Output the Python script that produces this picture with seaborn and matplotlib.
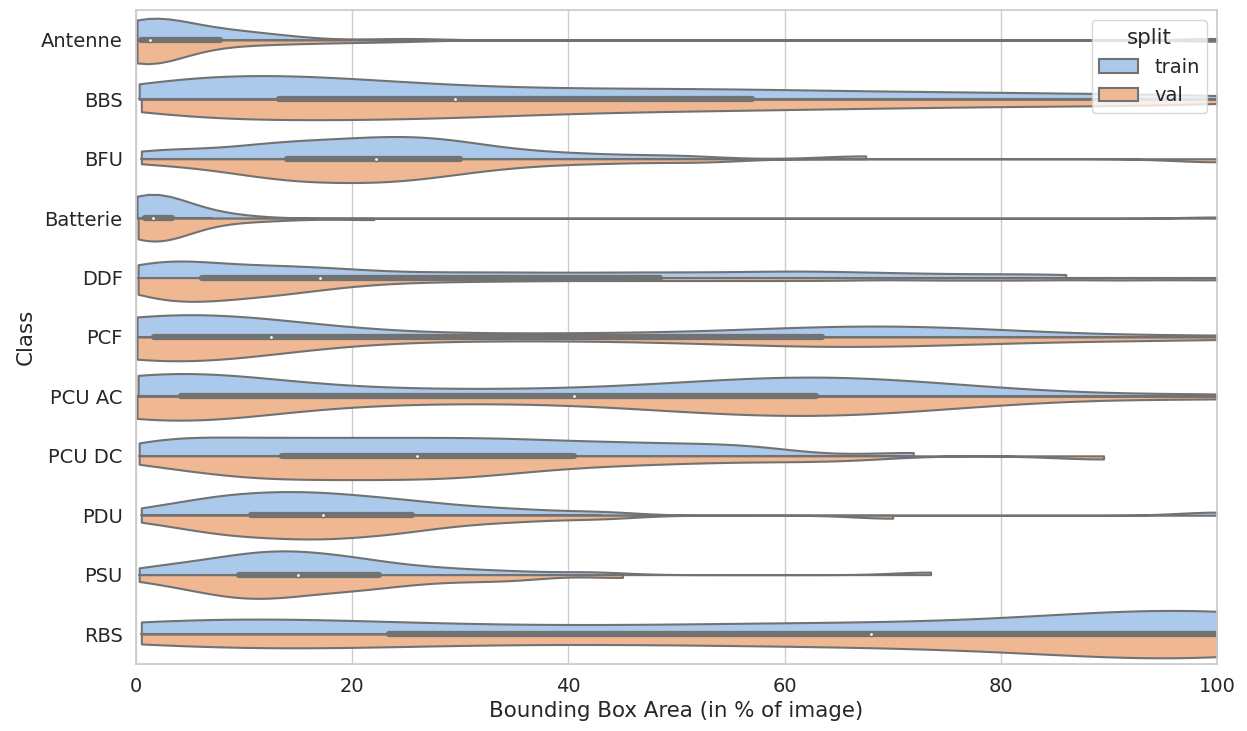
import matplotlib.pyplot as plt
import numpy as np
import pandas as pd
import seaborn as sns

classes = ['Antenne', 'BBS', 'BFU', 'Batterie', 'DDF', 'PCF',
           'PCU AC', 'PCU DC', 'PDU', 'PSU', 'RBS']
splits = ['train', 'val']

antenne_train = [0.1, 0.2, 0.3, 0.4, 0.5, 0.6, 0.7, 0.8, 1.0, 1.2, 1.6, 2.2,
                 3.0, 4.0, 5.0, 6.0, 7.0, 8.0, 9.0, 10.5, 12.0, 14.0, 25.0, 100.0]
antenne_val = [0.1, 0.15, 0.2, 0.25, 0.3, 0.35, 0.4, 0.45, 0.5, 0.6, 0.7, 0.8,
               0.9, 1.0, 1.1, 1.3, 2.0, 3.5, 5.5, 7.0, 7.5, 10.5, 12.5, 15.5,
               19.0, 24.0, 100.0]

bbs_train = [0.3, 1.5, 2.5, 3.5, 5, 6.5, 8, 9.5, 11, 12.5, 14, 15.5, 17, 18.5,
             20, 22, 24.5, 27, 29.5, 32.5, 36, 39.5, 43, 46.5, 50, 53.5, 57, 61,
             65, 70, 75, 80, 86, 93, 100]
bbs_val = [0.5, 2, 3.5, 5.5, 7.5, 9.5, 11.5, 13.5, 15.5, 17.5, 19.5, 21.5, 23.5,
           25.5, 27.5, 29.5, 32, 34.5, 37, 40, 43, 46.5, 50, 53.5, 57, 61, 65.5,
           70, 75, 80.5, 87, 93, 100]

bfu_train = [0.5, 2, 5, 8.5, 11, 12.5, 14, 15.5, 17, 18.5, 20.5, 21.5, 22.5,
             23.5, 25.5, 26.5, 27.5, 28.5, 30, 32, 34.5, 38, 43, 50, 67.5]
bfu_val = [0.5, 5.5, 8.5, 10.5, 12, 13.5, 15, 16, 17, 18, 20, 21.5, 22.2, 23,
           24.5, 26, 27.5, 29, 31, 34, 38, 44, 52, 100]

batterie_train = [0.1, 0.2, 0.3, 0.4, 0.5, 0.6, 0.7, 0.8, 0.9, 1.0, 1.1, 1.2,
                  1.4, 1.6, 1.8, 2.0, 2.3, 2.6, 3.0, 3.8, 4.8, 6.0, 7.5, 9.5, 100]
batterie_val = [0.2, 0.4, 0.6, 0.7, 0.8, 0.9, 1.0, 1.2, 1.4, 1.6, 1.8, 2.0,
                2.3, 2.6, 2.9, 3.5, 5.0, 7.0, 9.5, 13.0, 22.0]

ddf_train = [0.2, 0.8, 1.6, 2.5, 3.5, 4.5, 6, 7.8, 9.6, 11.4, 13.2, 15, 17, 19,
             22, 26, 30, 34, 38, 42.5, 46.5, 50.5, 54.5, 58.5, 61.5, 65, 69, 74,
             80, 86]
ddf_val = [0.2, 0.6, 1.2, 1.8, 2.4, 3, 3.8, 4.6, 5.4, 6.2, 7, 8, 9, 10, 11, 12,
           13, 14.2, 15.5, 17, 19, 22, 26, 31, 37, 44, 51, 58, 65, 74, 82, 91,
           100]

pcf_train = [0.1, 0.2, 0.3, 0.5, 0.7, 0.9, 1.2, 1.6, 3, 5, 7, 8.5, 10, 11,
             12, 12.5, 14, 22, 31, 40, 48, 55, 60, 63.5, 65.5, 67.5, 70, 72.5,
             75, 78, 84, 100]
pcf_val = [0.1, 0.2, 0.3, 0.4, 0.6, 0.8, 1.0, 1.3, 1.7, 2.5, 3.5, 5, 6.5, 8,
           9.5, 11, 12.5, 17, 25, 34, 44, 52, 57, 61, 63.5, 66, 69, 72, 76, 82,
           90, 100]

pcu_ac_train = [0.2, 0.6, 1.0, 1.5, 2.0, 2.6, 3.2, 3.9, 5, 7, 10, 14, 19, 25,
                31, 37, 44, 48, 51.5, 54.5, 57, 59, 61, 62.5, 64.5, 66, 68,
                70.5, 73, 77, 83, 100]
pcu_ac_val = [0.1, 0.4, 0.8, 1.2, 1.7, 2.3, 3.0, 3.8, 5, 7.5, 10.5, 15, 21, 28,
              35, 44, 48, 51, 53.5, 56.5, 59, 61, 63, 64.5, 66.5, 69, 72, 76,
              82, 100]

pcu_dc_train = [0.3, 1.5, 3, 5, 7, 9, 11, 13, 15, 17, 19, 21, 23, 25, 27, 29,
                31, 33, 35, 37, 39.5, 42, 44.5, 47, 50, 53, 56, 58.5, 71.9]
pcu_dc_val = [0.3, 3.5, 6, 8, 9.5, 11, 12.5, 14, 15.5, 17, 18.5, 20, 21.5, 23,
              24.5, 26, 27.5, 29, 30.5, 32, 34, 36, 38.5, 41.5, 45, 49, 54, 60,
              66, 89.5]

pdu_train = [0.5, 3.5, 5.6, 6.9, 8.2, 9.4, 10.6, 11.8, 12.8, 14, 15.1, 16.2,
             17.3, 18.4, 19.6, 21, 22.5, 24, 25.5, 27.5, 30, 33, 37, 43, 100]
pdu_val = [0.5, 3.5, 5.8, 7, 8.2, 9.4, 10.6, 11.8, 13, 14.2, 15.2, 16.2, 17.2,
           18.2, 19.3, 20.5, 21.8, 23, 24.4, 25.5, 27.5, 30, 33, 37, 43, 70]

psu_train = [0.3, 2.5, 4.5, 6, 7.4, 8.6, 9.6, 10.5, 11.4, 12.2, 13, 13.8, 14.6,
             15.4, 16.3, 17.2, 18.2, 19.3, 20.3, 21.5, 23, 25, 27.5, 30.5, 35,
             42, 73.5]
psu_val = [0.3, 3, 5, 6.3, 7.4, 8.4, 9.3, 10.2, 11, 11.8, 12.7, 13.6, 14.6,
           15.7, 16.9, 18.2, 19.7, 20.8, 22.3, 24, 26.5, 29.5, 33, 36, 45]

rbs_train = [0.5, 1.5, 3, 4.5, 6, 7.5, 9, 12, 15, 18, 21, 26, 31, 36, 42, 48,
             54, 57, 60, 64, 66, 72, 76, 80, 84, 87, 90, 93, 96, 98.5, 100, 100,
             100, 100, 100, 100, 100, 100, 100, 100, 100]
rbs_val = [0.5, 2, 4, 8, 10, 12, 14, 16, 19.5, 22.5, 27, 32, 38, 44, 47, 50, 56,
           61, 63, 66, 70, 73.5, 77, 80, 83, 86, 89, 92, 94.5, 97, 100, 100,
           100, 100, 100, 100, 100, 100, 100, 100, 100]

areas = {
    'Antenne': (antenne_train, antenne_val),
    'BBS': (bbs_train, bbs_val),
    'BFU': (bfu_train, bfu_val),
    'Batterie': (batterie_train, batterie_val),
    'DDF': (ddf_train, ddf_val),
    'PCF': (pcf_train, pcf_val),
    'PCU AC': (pcu_ac_train, pcu_ac_val),
    'PCU DC': (pcu_dc_train, pcu_dc_val),
    'PDU': (pdu_train, pdu_val),
    'PSU': (psu_train, psu_val),
    'RBS': (rbs_train, rbs_val),
}

rows = []
for cls, (tr, va) in areas.items():
    rows += [(cls, 'train', v) for v in tr]
    rows += [(cls, 'val', v) for v in va]
df = pd.DataFrame(rows, columns=['Class', 'split', 'area'])

# kernel width (in % units) per class
kernel = {'Antenne': 3.5, 'BBS': 8, 'BFU': 4, 'Batterie': 3.2, 'DDF': 4,
          'PCF': 9, 'PCU AC': 9, 'PCU DC': 4.5, 'PDU': 3.5, 'PSU': 3.3,
          'RBS': 13}


def fixed_bw(width):
    return lambda k: width / k.dataset.std(ddof=1)


sns.set_theme(style='whitegrid', font_scale=1.28)
gray = '#727272'

fig, ax = plt.subplots(figsize=(12.47, 7.31), dpi=100)
for i, cls in enumerate(classes):
    sub = df[df['Class'] == cls]
    sns.violinplot(data=sub, x='area', y='Class', hue='split', order=classes,
                   hue_order=splits, split=True, inner=None, cut=0,
                   palette='pastel', linecolor=gray, linewidth=1.5,
                   density_norm='area', common_norm=True,
                   bw_method=fixed_bw(kernel[cls]),
                   legend='auto' if i == 0 else False, ax=ax)

    # inner box on the pooled train+val data
    vals = sub['area'].to_numpy()
    q1, med, q3 = np.percentile(vals, [25, 50, 75])
    iqr = q3 - q1
    lo = vals[vals >= q1 - 1.5 * iqr].min()
    hi = vals[vals <= q3 + 1.5 * iqr].max()
    ax.plot([lo, hi], [i, i], color=gray, lw=1.5)
    ax.plot([q1, q3], [i, i], color=gray, lw=4.5)
    ax.scatter(med, i, s=9, color='white', edgecolor=gray, zorder=3)

ax.set_xlim(0, 100)
ax.set_ylim(len(classes) - 0.5, -0.5)
ax.set_xlabel('Bounding Box Area (in % of image)')
ax.set_ylabel('Class')
sns.move_legend(ax, 'upper right', title='split')
fig.subplots_adjust(left=0.109, right=0.976, top=0.986, bottom=0.092)
fig.savefig('out.png', dpi=100)
